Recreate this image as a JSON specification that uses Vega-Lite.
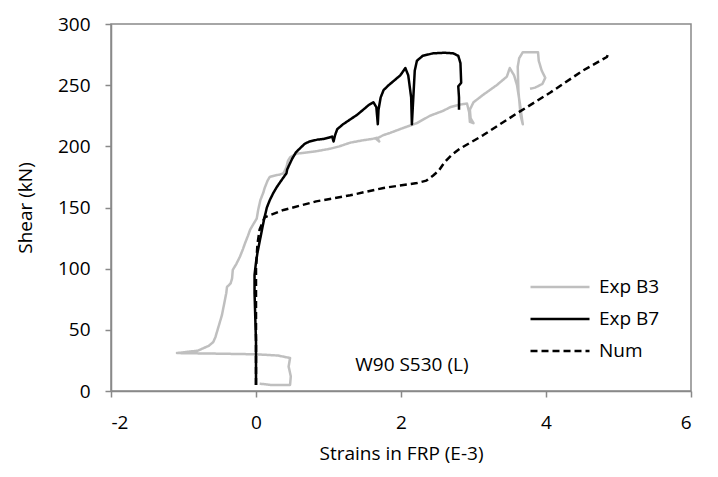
{
  "$schema": "https://vega.github.io/schema/vega-lite/v6.json",
  "width": 580,
  "height": 367,
  "autosize": {"type": "none"},
  "padding": {"left": 111, "top": 24, "right": 27, "bottom": 86},
  "background": "white",
  "config": {
    "font": "Open Sans",
    "view": {"stroke": "#898989", "strokeWidth": 1.5},
    "axis": {
      "grid": false,
      "domainColor": "#898989",
      "domainWidth": 1.5,
      "tickColor": "#898989",
      "tickWidth": 1.5,
      "tickSize": 6,
      "labelFont": "Open Sans",
      "labelFontSize": 19,
      "labelColor": "#000000",
      "titleFont": "Open Sans",
      "titleFontSize": 19,
      "titleFontWeight": "normal",
      "titleColor": "#000000"
    },
    "legend": {
      "labelFont": "Open Sans",
      "labelFontSize": 19,
      "labelColor": "#000000"
    }
  },
  "datasets": {
    "curves": [
      {"series":"Exp B3","i":1,"x":0.05,"y":6},{"series":"Exp B3","i":2,"x":0.2,"y":5},{"series":"Exp B3","i":3,"x":0.47,"y":5},{"series":"Exp B3","i":4,"x":0.48,"y":12},{"series":"Exp B3","i":5,"x":0.45,"y":20},{"series":"Exp B3","i":6,"x":0.47,"y":27},{"series":"Exp B3","i":7,"x":0.3,"y":29},{"series":"Exp B3","i":8,"x":0.0,"y":30},{"series":"Exp B3","i":9,"x":-0.5,"y":30.5},{"series":"Exp B3","i":10,"x":-1.09,"y":31},{"series":"Exp B3","i":11,"x":-0.95,"y":32},{"series":"Exp B3","i":12,"x":-0.8,"y":33},{"series":"Exp B3","i":13,"x":-0.65,"y":37},{"series":"Exp B3","i":14,"x":-0.59,"y":40},{"series":"Exp B3","i":15,"x":-0.56,"y":44},{"series":"Exp B3","i":16,"x":-0.54,"y":48},{"series":"Exp B3","i":17,"x":-0.52,"y":52},{"series":"Exp B3","i":18,"x":-0.5,"y":56},{"series":"Exp B3","i":19,"x":-0.47,"y":62},{"series":"Exp B3","i":20,"x":-0.45,"y":68},{"series":"Exp B3","i":21,"x":-0.43,"y":74},{"series":"Exp B3","i":22,"x":-0.41,"y":80},{"series":"Exp B3","i":23,"x":-0.4,"y":85},{"series":"Exp B3","i":24,"x":-0.35,"y":88},{"series":"Exp B3","i":25,"x":-0.33,"y":92},{"series":"Exp B3","i":26,"x":-0.32,"y":99},{"series":"Exp B3","i":27,"x":-0.27,"y":104},{"series":"Exp B3","i":28,"x":-0.22,"y":110},{"series":"Exp B3","i":29,"x":-0.18,"y":116},{"series":"Exp B3","i":30,"x":-0.15,"y":121},{"series":"Exp B3","i":31,"x":-0.11,"y":127},{"series":"Exp B3","i":32,"x":-0.08,"y":132},{"series":"Exp B3","i":33,"x":-0.04,"y":136},{"series":"Exp B3","i":34,"x":0.01,"y":141},{"series":"Exp B3","i":35,"x":0.03,"y":148},{"series":"Exp B3","i":36,"x":0.06,"y":156},{"series":"Exp B3","i":37,"x":0.1,"y":162},{"series":"Exp B3","i":38,"x":0.12,"y":166},{"series":"Exp B3","i":39,"x":0.16,"y":172},{"series":"Exp B3","i":40,"x":0.19,"y":175},{"series":"Exp B3","i":41,"x":0.25,"y":176},{"series":"Exp B3","i":42,"x":0.33,"y":177},{"series":"Exp B3","i":43,"x":0.38,"y":178},{"series":"Exp B3","i":44,"x":0.42,"y":183},{"series":"Exp B3","i":45,"x":0.44,"y":188},{"series":"Exp B3","i":46,"x":0.47,"y":191},{"series":"Exp B3","i":47,"x":0.56,"y":194},{"series":"Exp B3","i":48,"x":0.7,"y":195},{"series":"Exp B3","i":49,"x":0.83,"y":196},{"series":"Exp B3","i":50,"x":1.02,"y":198},{"series":"Exp B3","i":51,"x":1.15,"y":200},{"series":"Exp B3","i":52,"x":1.3,"y":203},{"series":"Exp B3","i":53,"x":1.48,"y":205},{"series":"Exp B3","i":54,"x":1.6,"y":206},{"series":"Exp B3","i":55,"x":1.67,"y":207},{"series":"Exp B3","i":56,"x":1.7,"y":204},{"series":"Exp B3","i":57,"x":1.66,"y":206},{"series":"Exp B3","i":58,"x":1.75,"y":209},{"series":"Exp B3","i":59,"x":1.85,"y":211},{"series":"Exp B3","i":60,"x":2.03,"y":215},{"series":"Exp B3","i":61,"x":2.22,"y":219},{"series":"Exp B3","i":62,"x":2.4,"y":225},{"series":"Exp B3","i":63,"x":2.58,"y":229},{"series":"Exp B3","i":64,"x":2.68,"y":232},{"series":"Exp B3","i":65,"x":2.8,"y":234},{"series":"Exp B3","i":66,"x":2.91,"y":235},{"series":"Exp B3","i":67,"x":2.94,"y":228},{"series":"Exp B3","i":68,"x":2.95,"y":220},{"series":"Exp B3","i":69,"x":3.0,"y":219},{"series":"Exp B3","i":70,"x":2.96,"y":223},{"series":"Exp B3","i":71,"x":2.95,"y":230},{"series":"Exp B3","i":72,"x":3.0,"y":236},{"series":"Exp B3","i":73,"x":3.13,"y":242},{"series":"Exp B3","i":74,"x":3.32,"y":250},{"series":"Exp B3","i":75,"x":3.46,"y":257},{"series":"Exp B3","i":76,"x":3.5,"y":264},{"series":"Exp B3","i":77,"x":3.56,"y":258},{"series":"Exp B3","i":78,"x":3.6,"y":250},{"series":"Exp B3","i":79,"x":3.64,"y":235},{"series":"Exp B3","i":80,"x":3.67,"y":222},{"series":"Exp B3","i":81,"x":3.68,"y":218},{"series":"Exp B3","i":82,"x":3.65,"y":225},{"series":"Exp B3","i":83,"x":3.62,"y":245},{"series":"Exp B3","i":84,"x":3.61,"y":265},{"series":"Exp B3","i":85,"x":3.63,"y":272},{"series":"Exp B3","i":86,"x":3.68,"y":277},{"series":"Exp B3","i":87,"x":3.8,"y":277},{"series":"Exp B3","i":88,"x":3.89,"y":277},{"series":"Exp B3","i":89,"x":3.9,"y":270},{"series":"Exp B3","i":90,"x":3.94,"y":262},{"series":"Exp B3","i":91,"x":3.99,"y":256},{"series":"Exp B3","i":92,"x":3.95,"y":251},{"series":"Exp B3","i":93,"x":3.85,"y":248},{"series":"Exp B3","i":94,"x":3.78,"y":247},
      {"series":"Exp B7","i":1,"x":0,"y":5},{"series":"Exp B7","i":2,"x":0,"y":20},{"series":"Exp B7","i":3,"x":0,"y":40},{"series":"Exp B7","i":4,"x":-0.01,"y":60},{"series":"Exp B7","i":5,"x":-0.02,"y":80},{"series":"Exp B7","i":6,"x":-0.02,"y":95},{"series":"Exp B7","i":7,"x":0,"y":105},{"series":"Exp B7","i":8,"x":0.02,"y":113},{"series":"Exp B7","i":9,"x":0.05,"y":122},{"series":"Exp B7","i":10,"x":0.08,"y":131},{"series":"Exp B7","i":11,"x":0.11,"y":140},{"series":"Exp B7","i":12,"x":0.15,"y":150},{"series":"Exp B7","i":13,"x":0.19,"y":156},{"series":"Exp B7","i":14,"x":0.24,"y":162},{"series":"Exp B7","i":15,"x":0.29,"y":167},{"series":"Exp B7","i":16,"x":0.36,"y":173},{"series":"Exp B7","i":17,"x":0.42,"y":178},{"series":"Exp B7","i":18,"x":0.43,"y":181},{"series":"Exp B7","i":19,"x":0.46,"y":185},{"series":"Exp B7","i":20,"x":0.5,"y":190},{"series":"Exp B7","i":21,"x":0.55,"y":195},{"series":"Exp B7","i":22,"x":0.6,"y":198},{"series":"Exp B7","i":23,"x":0.67,"y":202},{"series":"Exp B7","i":24,"x":0.74,"y":204},{"series":"Exp B7","i":25,"x":0.85,"y":205.5},{"series":"Exp B7","i":26,"x":0.93,"y":206},{"series":"Exp B7","i":27,"x":1.0,"y":207},{"series":"Exp B7","i":28,"x":1.05,"y":208},{"series":"Exp B7","i":29,"x":1.07,"y":204},{"series":"Exp B7","i":30,"x":1.09,"y":209},{"series":"Exp B7","i":31,"x":1.12,"y":214},{"series":"Exp B7","i":32,"x":1.2,"y":218},{"series":"Exp B7","i":33,"x":1.3,"y":222},{"series":"Exp B7","i":34,"x":1.4,"y":226},{"series":"Exp B7","i":35,"x":1.48,"y":230},{"series":"Exp B7","i":36,"x":1.56,"y":234},{"series":"Exp B7","i":37,"x":1.62,"y":236},{"series":"Exp B7","i":38,"x":1.66,"y":232},{"series":"Exp B7","i":39,"x":1.68,"y":218},{"series":"Exp B7","i":40,"x":1.69,"y":230},{"series":"Exp B7","i":41,"x":1.72,"y":240},{"series":"Exp B7","i":42,"x":1.76,"y":246},{"series":"Exp B7","i":43,"x":1.83,"y":250},{"series":"Exp B7","i":44,"x":1.89,"y":253},{"series":"Exp B7","i":45,"x":1.95,"y":256},{"series":"Exp B7","i":46,"x":1.99,"y":258},{"series":"Exp B7","i":47,"x":2.06,"y":264},{"series":"Exp B7","i":48,"x":2.1,"y":258},{"series":"Exp B7","i":49,"x":2.14,"y":240},{"series":"Exp B7","i":50,"x":2.15,"y":218},{"series":"Exp B7","i":51,"x":2.17,"y":240},{"series":"Exp B7","i":52,"x":2.19,"y":262},{"series":"Exp B7","i":53,"x":2.22,"y":270},{"series":"Exp B7","i":54,"x":2.3,"y":274},{"series":"Exp B7","i":55,"x":2.44,"y":276},{"series":"Exp B7","i":56,"x":2.6,"y":276.5},{"series":"Exp B7","i":57,"x":2.72,"y":276},{"series":"Exp B7","i":58,"x":2.79,"y":274},{"series":"Exp B7","i":59,"x":2.82,"y":268},{"series":"Exp B7","i":60,"x":2.83,"y":252},{"series":"Exp B7","i":61,"x":2.79,"y":249},{"series":"Exp B7","i":62,"x":2.8,"y":240},{"series":"Exp B7","i":63,"x":2.8,"y":230},
      {"series":"Num","i":1,"x":0,"y":5},{"series":"Num","i":2,"x":0,"y":50},{"series":"Num","i":3,"x":0,"y":100},{"series":"Num","i":4,"x":0.02,"y":120},{"series":"Num","i":5,"x":0.05,"y":132},{"series":"Num","i":6,"x":0.12,"y":142},{"series":"Num","i":7,"x":0.38,"y":148},{"series":"Num","i":8,"x":0.83,"y":155},{"series":"Num","i":9,"x":1.3,"y":160},{"series":"Num","i":10,"x":1.76,"y":166},{"series":"Num","i":11,"x":2.22,"y":170},{"series":"Num","i":12,"x":2.35,"y":172},{"series":"Num","i":13,"x":2.44,"y":176},{"series":"Num","i":14,"x":2.52,"y":180},{"series":"Num","i":15,"x":2.6,"y":187},{"series":"Num","i":16,"x":2.7,"y":193},{"series":"Num","i":17,"x":2.81,"y":198},{"series":"Num","i":18,"x":3.13,"y":209},{"series":"Num","i":19,"x":3.6,"y":227},{"series":"Num","i":20,"x":4.06,"y":244},{"series":"Num","i":21,"x":4.51,"y":262},{"series":"Num","i":22,"x":4.84,"y":273},{"series":"Num","i":23,"x":4.86,"y":276}
    ],
    "notes": [
      {"label": "W90 S530 (L)", "x": 2.15, "y": 21}
    ]
  },
  "layer": [
    {
      "data": {"name": "curves"},
      "mark": {"type": "line", "strokeWidth": 2.5, "strokeJoin": "round"},
      "encoding": {
        "x": {
          "field": "x", "type": "quantitative",
          "scale": {"domain": [-2, 6], "nice": false, "zero": false},
          "axis": {"values": [-2, 0, 2, 4, 6], "labelExpr": "'' + datum.value", "title": "Strains in FRP (E-3)", "labelPadding": 16, "titlePadding": 12}
        },
        "y": {
          "field": "y", "type": "quantitative",
          "scale": {"domain": [0, 300], "nice": false},
          "axis": {"values": [0, 50, 100, 150, 200, 250, 300], "labelExpr": "'' + datum.value", "title": "Shear (kN)", "labelPadding": 15, "titlePadding": 22}
        },
        "order": {"field": "i", "type": "quantitative"},
        "color": {
          "field": "series", "type": "nominal",
          "scale": {"domain": ["Exp B3", "Exp B7", "Num"], "range": ["#bfbfbf", "#000000", "#000000"]},
          "legend": {
            "title": null,
            "orient": "none",
            "legendX": 418,
            "legendY": 247,
            "symbolType": "stroke",
            "symbolSize": 3481,
            "symbolStrokeWidth": 2.5,
            "labelOffset": 8,
            "clipHeight": 32,
            "rowPadding": 0
          }
        },
        "strokeDash": {
          "field": "series", "type": "nominal",
          "scale": {"domain": ["Exp B3", "Exp B7", "Num"], "range": [[1, 0], [1, 0], [7, 4]]},
          "legend": {
            "title": null,
            "orient": "none",
            "legendX": 418,
            "legendY": 247,
            "symbolType": "stroke",
            "symbolSize": 3481,
            "symbolStrokeWidth": 2.5,
            "labelOffset": 8,
            "clipHeight": 32,
            "rowPadding": 0
          }
        }
      }
    },
    {
      "data": {"name": "notes"},
      "mark": {"type": "text", "fontSize": 19, "font": "Open Sans", "color": "#000000"},
      "encoding": {
        "x": {"field": "x", "type": "quantitative"},
        "y": {"field": "y", "type": "quantitative"},
        "text": {"field": "label"}
      }
    }
  ]
}
